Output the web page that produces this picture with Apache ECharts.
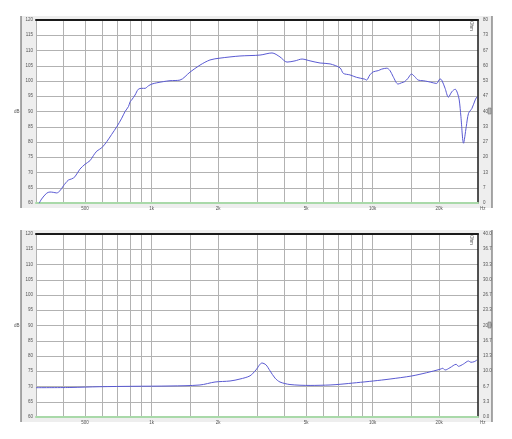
<!DOCTYPE html>
<html><head><meta charset="utf-8">
<script src="https://cdn.jsdelivr.net/npm/echarts@6/dist/echarts.min.js"></script>
<style>html,body{margin:0;padding:0;background:#fff}#c{width:512px;height:439px}</style>
</head><body><div id="c"></div>
<script>
// Frequency response (SPL, dB) - top panel
const splFreq = [310,318,335,347,359,372,385,399,420,435,450,474,500,527,545,565,595,627,660,696,733,759,786,800,813,842,871,903,935,967,1003,1055,1131,1212,1344,1492,1656,1838,2040,2513,3094,3507,3811,4101,4458,4797,5214,5787,6422,7127,7376,7898,8465,9227,9391,9723,10070,10610,11000,11600,12000,12400,13040,13510,13980,14470,15000,15530,16080,16940,17850,18820,19500,20200,20560,21290,22040,22850,23660,24230,24670,25110,25800,26540,27180,28150,29140,29670];
const splDb = [59.9,61.3,63.2,63.6,63.5,63.3,64.0,65.6,67.5,67.9,68.6,71.1,72.7,73.9,75.5,77.0,78.1,80.1,82.5,85.0,87.8,90.0,91.6,93.2,93.8,95.4,97.3,97.6,97.6,98.4,99.0,99.4,99.8,100.1,100.3,102.9,105.2,106.9,107.5,108.2,108.5,109.2,107.9,106.2,106.6,107.2,106.6,105.9,105.6,104.3,102.5,102.0,101.2,100.6,100.3,102.0,103.0,103.4,103.9,104.2,103.4,101.4,99.0,99.4,99.8,100.9,102.3,101.4,100.3,100.1,99.8,99.4,99.2,100.7,100.3,97.6,94.7,96.5,97.3,96.0,93.8,88.3,79.6,85.0,89.4,91.0,93.8,94.8];
// Impedance (Ohm) - bottom panel
const impFreq = [300,427,584,824,1212,1656,1937,2265,2513,2790,2969,3160,3294,3435,3620,3811,4230,5214,6422,7127,8465,10070,12000,15000,17560,20200,20780,21290,22410,23890,24470,25800,27180,27860,28840,29670];
const impOhm = [6.41,6.45,6.62,6.71,6.78,7.0,7.65,7.87,8.3,9.0,10.3,11.8,11.4,10.1,8.5,7.65,7.1,6.9,7.0,7.15,7.5,7.87,8.3,8.96,9.68,10.43,10.65,10.27,10.78,11.52,11.08,11.59,12.24,11.96,12.09,12.46];
// Axes
const gridFreqs = [400,500,600,700,800,900,1000,1500,2000,3000,4000,5000,6000,7000,8000,9000,10000,15000,20000];
const freqLabels = [500,1000,2000,5000,10000,20000];
const dbMin = 60, dbMax = 120, dbStep = 5;
const ohmTopMax = 80, ohmBotMax = 40;

const FS = 4.5, FC = '#555', FF = 'Liberation Sans, Arial, sans-serif';
const chart = echarts.init(document.getElementById('c'), null, {renderer: 'canvas'});

function fmtF(v){ return v >= 1000 ? (v/1000) + 'k' : String(v); }

function xBottom(gi){
  return {
    type: 'log', logBase: 10, gridIndex: gi, min: 300, max: 30000, position: 'bottom',
    name: 'Hz', nameLocation: 'end', nameGap: 2,
    nameTextStyle: {fontSize: FS, color: FC, fontFamily: FF, verticalAlign: 'top', padding: [3,0,0,0]},
    axisLine: {show: true, onZero: false, lineStyle: {color: '#a9d9a9', width: 2}},
    axisTick: {show: false, customValues: gridFreqs},
    axisLabel: {customValues: freqLabels, formatter: fmtF, fontSize: FS, color: FC, fontFamily: FF, margin: 3},
    splitLine: {show: true, lineStyle: {color: '#b2b2b2', width: 1}},
    minorSplitLine: {show: false}
  };
}
function xTop(gi){
  return {
    type: 'log', logBase: 10, gridIndex: gi, min: 300, max: 30000, position: 'top',
    axisLine: {show: true, onZero: false, lineStyle: {color: '#1a1a1a', width: 2}},
    axisTick: {show: false}, axisLabel: {show: false}, splitLine: {show: false}
  };
}
function yLeft(gi){
  return {
    type: 'value', gridIndex: gi, min: dbMin, max: dbMax, interval: dbStep, position: 'left',
    name: 'dB', nameLocation: 'middle', nameGap: 10, nameRotate: 0,
    nameTextStyle: {fontSize: FS, color: FC, fontFamily: FF},
    axisLine: {show: true, lineStyle: {color: '#b2b2b2', width: 1}},
    axisTick: {show: false},
    axisLabel: {fontSize: FS, color: FC, fontFamily: FF, margin: 3},
    splitLine: {show: true, lineStyle: {color: '#b2b2b2', width: 1}}
  };
}
function yRight(gi, max, fmt){
  return {
    type: 'value', gridIndex: gi, min: 0, max: max, interval: max/12, position: 'right',
    axisLine: {show: true, lineStyle: {color: '#1a1a1a', width: 1.5}},
    axisTick: {show: false},
    axisLabel: {fontSize: FS, color: FC, fontFamily: FF, margin: 5, formatter: fmt},
    splitLine: {show: false}
  };
}

const option = {
  animation: false,
  backgroundColor: '#fff',
  graphic: [
    {type: 'rect', z: -10, shape: {x: 21, y: 16, width: 471, height: 192}, style: {fill: '#eeeeee'}},
    {type: 'line', z: -9, shape: {x1: 21, y1: 16, x2: 21, y2: 208}, style: {stroke: '#555', lineWidth: 1}},
    {type: 'line', z: -9, shape: {x1: 492, y1: 16, x2: 492, y2: 208}, style: {stroke: '#555', lineWidth: 1}},
    {type: 'rect', z: -10, shape: {x: 21, y: 230, width: 471, height: 192}, style: {fill: '#eeeeee'}},
    {type: 'line', z: -9, shape: {x1: 21, y1: 230, x2: 21, y2: 422}, style: {stroke: '#555', lineWidth: 1}},
    {type: 'line', z: -9, shape: {x1: 492, y1: 230, x2: 492, y2: 422}, style: {stroke: '#555', lineWidth: 1}},
    {type: 'rect', z: 5, shape: {x: 488, y: 108, width: 3, height: 6}, style: {fill: '#bbb', stroke: '#666', lineWidth: 0.5}},
    {type: 'rect', z: 5, shape: {x: 488, y: 322, width: 3, height: 6}, style: {fill: '#bbb', stroke: '#666', lineWidth: 0.5}},
    {type: 'text', z: 5, x: 474, y: 21, rotation: -Math.PI/2, style: {text: 'Ohm', fontSize: FS, fill: FC, fontFamily: FF}},
    {type: 'text', z: 5, x: 474, y: 235, rotation: -Math.PI/2, style: {text: 'Ohm', fontSize: FS, fill: FC, fontFamily: FF}}
  ],
  grid: [
    {left: 36, top: 20, width: 442, height: 183, show: true, backgroundColor: '#fff', borderWidth: 0, containLabel: false},
    {left: 36, top: 234, width: 442, height: 183, show: true, backgroundColor: '#fff', borderWidth: 0, containLabel: false}
  ],
  xAxis: [xBottom(0), xTop(0), xBottom(1), xTop(1)],
  yAxis: [
    yLeft(0),
    yRight(0, ohmTopMax, v => String(Math.round(v))),
    yLeft(1),
    yRight(1, ohmBotMax, v => v.toFixed(1))
  ],
  series: [
    {type: 'line', xAxisIndex: 0, yAxisIndex: 0, symbol: 'none', smooth: 0.3,
     lineStyle: {color: '#5a5ad2', width: 1}, data: splFreq.map((f,i) => [f, splDb[i]])},
    {type: 'line', xAxisIndex: 2, yAxisIndex: 3, symbol: 'none', smooth: 0.3,
     lineStyle: {color: '#5a5ad2', width: 1}, data: impFreq.map((f,i) => [f, impOhm[i]])}
  ]
};
chart.setOption(option);
</script></body></html>
